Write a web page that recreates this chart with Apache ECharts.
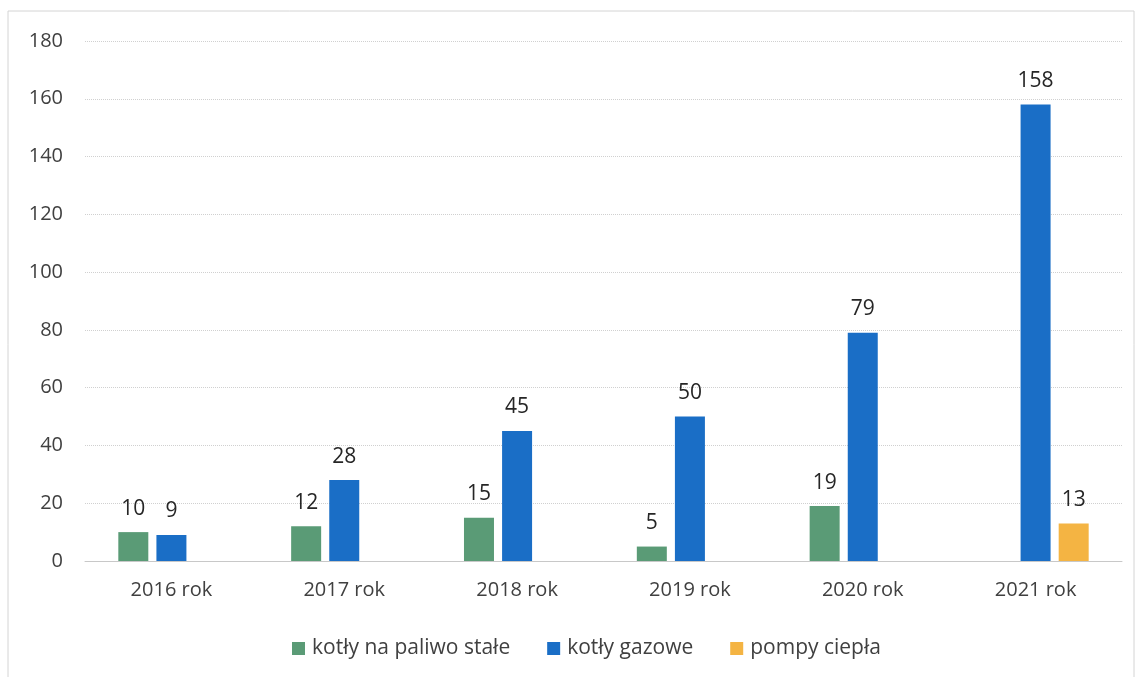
<!DOCTYPE html>
<html><head><meta charset="utf-8">
<script src="https://cdn.jsdelivr.net/npm/echarts@6/dist/echarts.min.js"></script>
<style>html,body{margin:0;padding:0;background:#fff}#c{width:1138px;height:677px}</style>
</head><body><div id="c"></div>
<script>
const categories = ['2016 rok','2017 rok','2018 rok','2019 rok','2020 rok','2021 rok'];
const seriesNames = ['kotły na paliwo stałe','kotły gazowe','pompy ciepła'];
const solidFuel = [10,12,15,5,19,null];
const gas = [9,28,45,50,79,158];
const heatPumps = [null,null,null,null,null,13];
const colors = ['#5a9b76','#1a6ec6','#f4b443'];

const chart = echarts.init(document.getElementById('c'));
const font = '"Open Sans", "Liberation Sans", sans-serif';
const lbl = {show:true, position:'top', distance:13, color:'#262626', fontSize:21, fontFamily:font};
function mk(name, data, color){
  return {name, type:'bar', data, barWidth:30, barGap:'27%', itemStyle:{color}, label:lbl};
}
chart.setOption({
  animation:false,
  color: colors,
  graphic:[{type:'rect', shape:{x:8,y:11,width:1126,height:700}, style:{fill:'none', stroke:'#d4d4d4', lineWidth:1}}],
  grid:{left:85, right:16, top:41, bottom:116},
  legend:{top:633, left:287, itemWidth:13, itemHeight:13, itemGap:37, icon:'rect',
    textStyle:{fontSize:21, color:'#404040', fontFamily:font, padding:[0,0,0,2]}, data:seriesNames},
  xAxis:{type:'category', data:categories,
    axisLine:{lineStyle:{color:'#c8c8c8'}}, axisTick:{show:false},
    axisLabel:{fontSize:20, color:'#404040', margin:19, fontFamily:font}},
  yAxis:{type:'value', min:0, max:180, interval:20,
    axisLabel:{fontSize:20, color:'#404040', margin:22, fontFamily:font},
    splitLine:{lineStyle:{color:'#d0d0d0', type:'dotted'}}},
  series:[mk(seriesNames[0], solidFuel, colors[0]), mk(seriesNames[1], gas, colors[1]), mk(seriesNames[2], heatPumps, colors[2])]
});
</script></body></html>
